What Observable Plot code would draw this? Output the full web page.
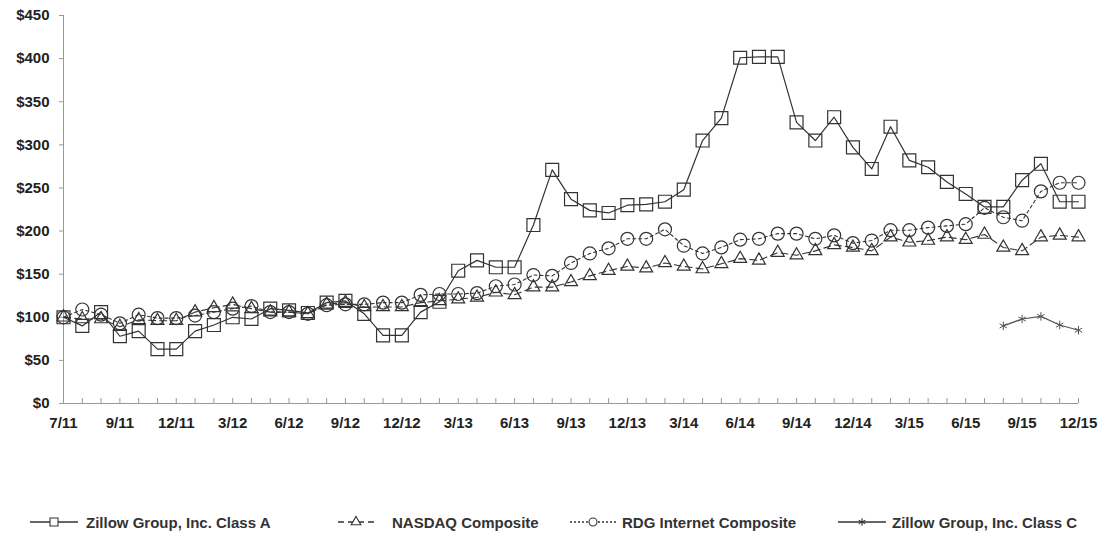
<!DOCTYPE html>
<html><head><meta charset="utf-8">
<script src="https://cdn.jsdelivr.net/npm/d3@7"></script>
<script src="https://cdn.jsdelivr.net/npm/@observablehq/plot@0.6"></script>
<style>
body{margin:0;background:#fff;font-family:"Liberation Sans",Arial,sans-serif;}
#chart{position:relative;width:1106px;height:537px;overflow:hidden}
#legend{position:absolute;top:512px;left:0;width:1106px;height:20px;}
.item{position:absolute;top:0;height:20px;display:flex;align-items:center;font-weight:bold;font-size:15px;color:#333;white-space:nowrap}
</style></head><body><div id="chart"><div id="plot"></div><div id="legend"></div></div>
<script>
// Cumulative total return, $100 invested at IPO (7/20/11), then month-ends
const classA = [100, 90, 106, 78, 84, 63, 63, 84, 91, 100, 98, 110, 108, 105, 117, 119, 104, 79, 79, 106,
  118, 154, 166, 158, 158, 207, 271, 237, 224, 221, 230, 231, 234, 248, 305, 331, 401, 402, 402, 326,
  305, 332, 297, 272, 321, 282, 274, 257, 243, 228, 228, 259, 278, 234, 234];
const nasdaq = [100, 98, 98, 89, 97, 96, 96, 106, 111, 115, 110, 106, 106, 104, 115, 117, 112, 112, 112, 117,
  119, 121, 123, 129, 126, 135, 135, 141, 148, 154, 159, 157, 163, 159, 156, 162, 168, 166, 175, 172,
  177, 184, 181, 177, 193, 187, 189, 193, 190, 196, 181, 177, 193, 195, 193];
const rdg = [100, 109, 103, 93, 103, 99, 99, 102, 106, 110, 113, 106, 106, 104, 114, 115, 115, 117, 117, 126,
  127, 127, 128, 136, 138, 149, 148, 163, 174, 180, 191, 191, 202, 183, 174, 181, 190, 191, 197, 197,
  191, 195, 186, 189, 201, 201, 204, 206, 208, 227, 216, 212, 246, 256, 256];
const classCPeriods = [50, 51, 52, 53, 54];
const classC = [90, 98, 101, 91, 85];

const periods = d3.range(classA.length); // 0 = 7/20/11, 1..54 = month-ends 7/11 .. 12/15
const xTickAt = [0, 3, 6, 9, 12, 15, 18, 21, 24, 27, 30, 33, 36, 39, 42, 45, 48, 51, 54];
const xTickLabels = ["7/11", "9/11", "12/11", "3/12", "6/12", "9/12", "12/12", "3/13", "6/13", "9/13",
  "12/13", "3/14", "6/14", "9/14", "12/14", "3/15", "6/15", "9/15", "12/15"];
const yTicks = [0, 50, 100, 150, 200, 250, 300, 350, 400, 450];

const seriesNames = ["Zillow Group, Inc. Class A", "NASDAQ Composite", "RDG Internet Composite", "Zillow Group, Inc. Class C"];

const rows = (vals, idx) => vals.map((v, k) => ({i: idx ? idx[k] : periods[k], v}));
const dA = rows(classA), dN = rows(nasdaq), dR = rows(rdg), dC = rows(classC, classCPeriods);

const ink = "#333";
const plot = Plot.plot({
  width: 1106, height: 440,
  marginLeft: 63, marginRight: 28, marginTop: 15, marginBottom: 37,
  x: {domain: [0, 54], axis: null},
  y: {domain: [0, 450], axis: null},
  style: {fontFamily: "'Liberation Sans', Arial, sans-serif", background: "#fff"},
  marks: [
    Plot.tickX(periods, {x: d => d, stroke: "#999", insetTop: 383}),
    Plot.ruleY([0], {stroke: "#999"}),
    Plot.ruleX([0], {stroke: "#999"}),
    Plot.axisY(yTicks, {tickSize: 4, tickPadding: 10, stroke: "#999", fill: "#222", label: null,
      tickFormat: d => "$" + d, fontSize: 15, fontWeight: "bold"}),
    Plot.axisX(xTickAt, {tickSize: 0, tickPadding: 14, fill: "#222", fontSize: 15, fontWeight: "bold", label: null,
      tickFormat: d => xTickLabels[xTickAt.indexOf(d)]}),
    Plot.line(dR, {x: "i", y: "v", stroke: ink, strokeWidth: 1.1, strokeDasharray: "3,3"}),
    Plot.line(dN, {x: "i", y: "v", stroke: ink, strokeWidth: 1.1, strokeDasharray: "7,4"}),
    Plot.line(dA, {x: "i", y: "v", stroke: ink, strokeWidth: 1.2}),
    Plot.line(dC, {x: "i", y: "v", stroke: "#555", strokeWidth: 1.2}),
    Plot.dot(dR, {x: "i", y: "v", symbol: "circle", r: 6.5, stroke: ink, fill: "none", strokeWidth: 1.2}),
    Plot.dot(dN, {x: "i", y: "v", symbol: "triangle", r: 4.8, stroke: ink, fill: "none", strokeWidth: 1.2}),
    Plot.dot(dA, {x: "i", y: "v", symbol: "square", r: 7.3, stroke: ink, fill: "none", strokeWidth: 1.2}),
    Plot.dot(dC, {x: "i", y: "v", symbol: "asterisk", r: 4, stroke: "#555", fill: "none", strokeWidth: 1})
  ]
});
document.getElementById("plot").appendChild(plot);

// Legend
const legendDefs = [
  {name: seriesNames[0], left: 30, w: 48, gap: 8, dash: null, sym: "square"},
  {name: seriesNames[1], left: 338, w: 36, gap: 18, dash: "6,4", sym: "triangle"},
  {name: seriesNames[2], left: 570, w: 46, gap: 6, dash: "2,2", sym: "circle"},
  {name: seriesNames[3], left: 838, w: 48, gap: 6, dash: null, sym: "asterisk"}
];
const symMap = {square: d3.symbolSquare, triangle: d3.symbolTriangle, circle: d3.symbolCircle, asterisk: d3.symbolAsterisk};
const sizeMap = {square: 64, triangle: 40, circle: 50, asterisk: 40};
const legend = d3.select("#legend");
legendDefs.forEach(def => {
  const it = legend.append("div").attr("class", "item").style("left", def.left + "px");
  const s = it.append("svg").attr("width", def.w).attr("height", 14).style("margin-right", def.gap + "px");
  s.append("line").attr("x1", 0).attr("x2", def.w).attr("y1", 7).attr("y2", 7)
    .attr("stroke", ink).attr("stroke-width", 1.3).attr("stroke-dasharray", def.dash);
  s.append("path").attr("d", d3.symbol(symMap[def.sym], sizeMap[def.sym])())
    .attr("transform", `translate(${def.w / 2},7)`).attr("fill", "#fff").attr("stroke", ink).attr("stroke-width", 1.1);
  it.append("span").text(def.name);
});
</script></body></html>
